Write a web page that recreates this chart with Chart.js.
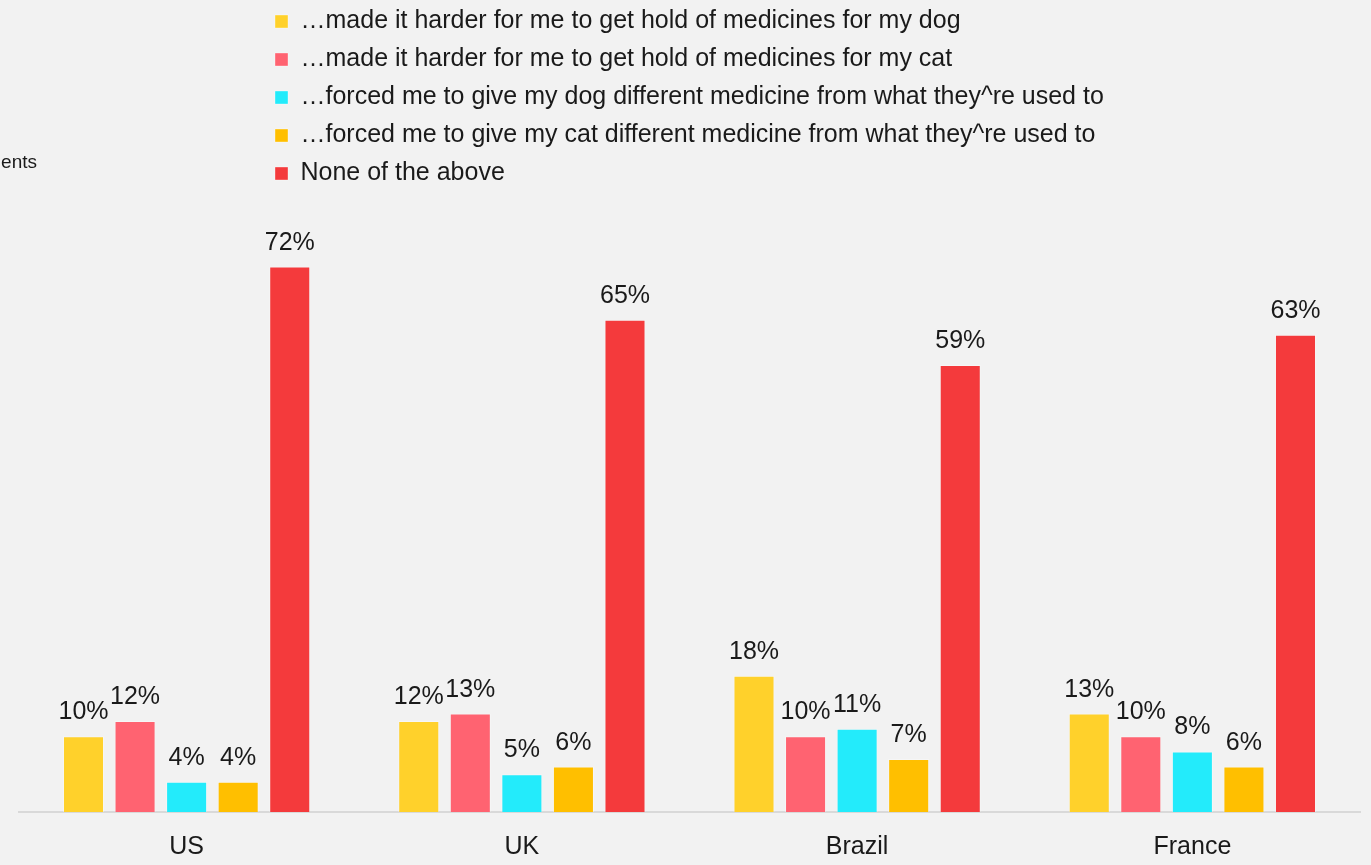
<!DOCTYPE html>
<html>
<head>
<meta charset="utf-8">
<script src="https://cdn.jsdelivr.net/npm/chart.js@4"></script>
<style>
    html, body { margin: 0; padding: 0; background: #f2f2f2; }
    #wrap { width: 1371px; height: 865px; position: relative; }
</style>
</head>
<body>
<div id="wrap"><canvas id="medChart"></canvas></div>
<script>
const countries = ["US", "UK", "Brazil", "France"];

const seriesNames = [
    "\u2026made it harder for me to get hold of medicines for my dog",
    "\u2026made it harder for me to get hold of medicines for my cat",
    "\u2026forced me to give my dog different medicine from what they^re used to",
    "\u2026forced me to give my cat different medicine from what they^re used to",
    "None of the above"
];

const dogHarder = [10, 12, 18, 13];
const catHarder = [12, 13, 10, 10];
const dogForced = [4, 5, 11, 8];
const catForced = [4, 6, 7, 6];
const noneAbove = [72, 65, 59, 63];

const barColors = ["#ffd12b", "#ff6371", "#23ebfb", "#ffbf00", "#f43a3c"];

const FONT = "'Liberation Sans', Arial, sans-serif";

// percent labels over every bar
const valueLabels = {
    id: "valueLabels",
    afterDatasetsDraw(chart) {
        const ctx = chart.ctx;
        ctx.save();
        ctx.font = "25px " + FONT;
        ctx.fillStyle = "#1a1a1a";
        ctx.textAlign = "center";
        ctx.textBaseline = "alphabetic";
        chart.data.datasets.forEach((ds, i) => {
            chart.getDatasetMeta(i).data.forEach((bar, j) => {
                ctx.fillText(ds.data[j] + "%", bar.x, bar.y - 17);
            });
        });
        ctx.restore();
    }
};

// left-hand note, cut off at the page edge
const sideNote = {
    id: "sideNote",
    afterDraw(chart) {
        const ctx = chart.ctx;
        ctx.save();
        ctx.font = "19px " + FONT;
        ctx.fillStyle = "#1a1a1a";
        ctx.textAlign = "right";
        ctx.textBaseline = "alphabetic";
        ctx.fillText("ents", 37, 168);
        ctx.restore();
    }
};

// one legend entry per row, column moved over to the right
const LEGEND_W = 950;
const legendShift = {
    id: "legendShift",
    afterInit(chart) {
        const lg = chart.legend;
        const origFit = lg.fit;
        lg.fit = function () {
            this.maxWidth = Math.min(this.maxWidth, LEGEND_W);
            origFit.call(this);
        };
    },
    afterLayout(chart) {
        const lg = chart.legend;
        lg.left = 262;
        lg.right = lg.left + LEGEND_W;
        lg.top = -4;
    }
};

const sets = [dogHarder, catHarder, dogForced, catForced, noneAbove];

new Chart(document.getElementById("medChart"), {
    type: "bar",
    data: {
        labels: countries,
        datasets: sets.map((vals, i) => ({
            label: seriesNames[i],
            data: vals,
            backgroundColor: barColors[i],
            borderColor: "rgba(255,255,255,0.35)",
            borderWidth: 1,
            categoryPercentage: 0.769,
            barPercentage: 0.796
        }))
    },
    options: {
        responsive: true,
        maintainAspectRatio: false,
        animation: false,
        layout: { padding: { left: 19, right: 11, top: 6, bottom: -17 } },
        plugins: {
            legend: {
                position: "top",
                align: "start",
                labels: {
                    boxWidth: 13,
                    boxHeight: 13,
                    padding: 13,
                    color: "#1a1a1a",
                    font: { family: FONT, size: 25 }
                }
            },
            tooltip: { enabled: false }
        },
        scales: {
            x: {
                grid: { display: false, drawTicks: false },
                border: { display: true, color: "#d9d9d9", width: 2 },
                ticks: {
                    color: "#1a1a1a",
                    padding: 20,
                    font: { family: FONT, size: 25 }
                }
            },
            y: {
                display: false,
                min: 0,
                max: 80
            }
        }
    },
    plugins: [valueLabels, sideNote, legendShift]
});
</script>
</body>
</html>
